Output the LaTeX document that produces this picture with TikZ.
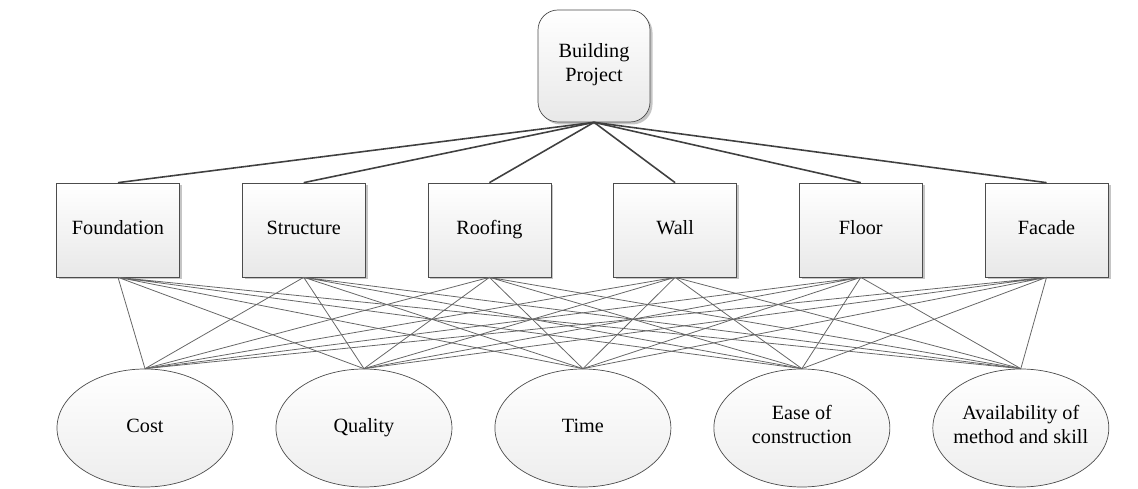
\documentclass[tikz,border=0pt]{standalone}
\usepackage{fontspec}
\setmainfont{Liberation Serif}
\usetikzlibrary{shapes.geometric, positioning, shadows}

\begin{document}
\begin{tikzpicture}[
    goal/.style={rectangle, draw=black!70, rounded corners=0.4cm, minimum width=2.24cm, minimum height=2.24cm, align=center, top color=white, bottom color=black!9, drop shadow={shadow xshift=0.05cm, shadow yshift=-0.05cm, fill=black!45, opacity=0.5}},
    element/.style={rectangle, draw=black!70, minimum width=2.46cm, minimum height=1.88cm, align=center, top color=white, bottom color=black!9, drop shadow={shadow xshift=0.05cm, shadow yshift=-0.05cm, fill=black!45, opacity=0.5}},
    criterion/.style={ellipse, draw=black!70, minimum width=3.52cm, minimum height=2.36cm, inner xsep=-0.2cm, inner ysep=0pt, align=center, top color=white, bottom color=black!7},
    toplink/.style={draw=black!75, line width=0.9pt},
    link/.style={draw=black!60, line width=0.45pt},
    node distance=1.24cm and 1.24cm,
    font=\rmfamily\fontsize{11.5}{13.7}\selectfont,
    execute at begin node=\strut, execute at end node=\strut % even baselines
]
\useasboundingbox (0,0) rectangle (22.76,9.76); % reference frame

% Goal
\node[goal] (project) at (11.88,8.44) {Building\\Project};

% Building elements
\node[element] (foundation) at (2.36,5.16) {Foundation};
\node[element, right=of foundation] (structure) {Structure};
\node[element, right=of structure] (roofing) {Roofing};
\node[element, right=of roofing] (wall) {Wall};
\node[element, right=of wall] (floor) {Floor};
\node[element, right=of floor] (facade) {Facade};

% Criteria
\node[criterion] (cost) at (2.9,1.2) {Cost};
\node[criterion, right=0.845cm of cost] (quality) {Quality};
\node[criterion, right=0.845cm of quality] (time) {Time};
\node[criterion, right=0.845cm of time] (ease) {Ease of\\construction};
\node[criterion, right=0.845cm of ease] (avail) {Availability of\\method and skill};

% Goal to elements
\draw[toplink] (project.south) -- (foundation.north);
\draw[toplink] (project.south) -- (structure.north);
\draw[toplink] (project.south) -- (roofing.north);
\draw[toplink] (project.south) -- (wall.north);
\draw[toplink] (project.south) -- (floor.north);
\draw[toplink] (project.south) -- (facade.north);

% Elements to criteria
\draw[link] (foundation.south) -- (cost.north) (foundation.south) -- (quality.north) (foundation.south) -- (time.north) (foundation.south) -- (ease.north) (foundation.south) -- (avail.north);
\draw[link] (structure.south) -- (cost.north) (structure.south) -- (quality.north) (structure.south) -- (time.north) (structure.south) -- (ease.north) (structure.south) -- (avail.north);
\draw[link] (roofing.south) -- (cost.north) (roofing.south) -- (quality.north) (roofing.south) -- (time.north) (roofing.south) -- (ease.north) (roofing.south) -- (avail.north);
\draw[link] (wall.south) -- (cost.north) (wall.south) -- (quality.north) (wall.south) -- (time.north) (wall.south) -- (ease.north) (wall.south) -- (avail.north);
\draw[link] (floor.south) -- (cost.north) (floor.south) -- (quality.north) (floor.south) -- (time.north) (floor.south) -- (ease.north) (floor.south) -- (avail.north);
\draw[link] (facade.south) -- (cost.north) (facade.south) -- (quality.north) (facade.south) -- (time.north) (facade.south) -- (ease.north) (facade.south) -- (avail.north);

\end{tikzpicture}
\end{document}
